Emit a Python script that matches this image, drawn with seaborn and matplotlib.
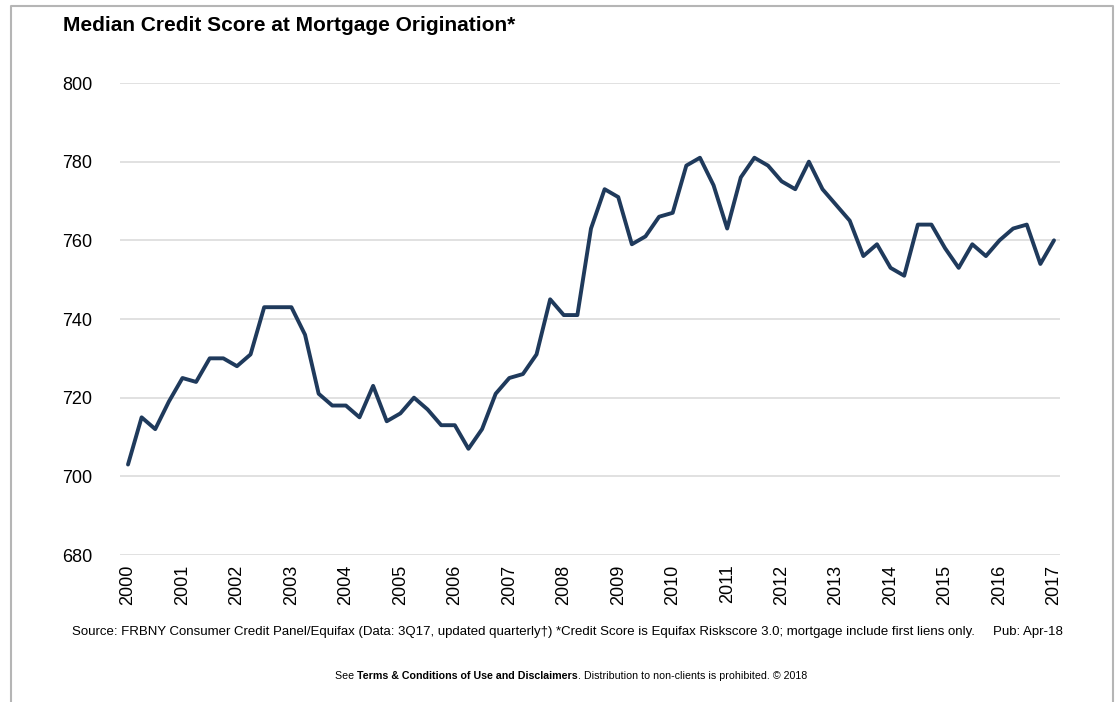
import numpy as np
import pandas as pd
import matplotlib
matplotlib.use("Agg")
import matplotlib.pyplot as plt
import seaborn as sns

# quarterly median credit score, 2000Q1 .. 2017Q1
quarters = pd.period_range("2000Q1", "2017Q1", freq="Q")
score = [703, 715, 712, 719,
         725, 724, 730, 730,
         728, 731, 743, 743,
         743, 736, 721, 718,
         718, 715, 723, 714,
         716, 720, 717, 713,
         713, 707, 712, 721,
         725, 726, 731, 745,
         741, 741, 763, 773,
         771, 759, 761, 766,
         767, 779, 781, 774,
         763, 776, 781, 779,
         775, 773, 780, 773,
         769, 765, 756, 759,
         753, 751, 764, 764,
         758, 753, 759, 756,
         760, 763, 764, 754,
         760]
years = list(range(2000, 2018))
yticks = [680, 700, 720, 740, 760, 780, 800]

df = pd.DataFrame({"t": quarters.year + (quarters.quarter - 1) / 4.0, "score": score})

sns.set_style("white")
plt.rcParams["font.family"] = ["Liberation Sans", "DejaVu Sans"]
plt.rcParams["text.color"] = "black"
plt.rcParams["xtick.color"] = "black"
plt.rcParams["ytick.color"] = "black"

W, H = 1117, 702
fig = plt.figure(figsize=(W / 100, H / 100), dpi=100)
ax = fig.add_axes([120 / W, 1 - 555 / H, 940 / W, 472 / H])

sns.lineplot(data=df, x="t", y="score", ax=ax, color="#1f3a5c", linewidth=2.8)

ax.set_xlim(2000 - 8 / 54.47, 2017 + 6 / 54.47)
ax.set_ylim(680, 800)
ax.set_yticks(yticks)
ax.set_xticks(years)
ax.set_xticklabels([str(y) for y in years], rotation=90, fontsize=13)
ax.tick_params(axis="y", labelsize=13, pad=20, length=0)
ax.tick_params(axis="x", pad=7, length=0)
ax.yaxis.grid(True, color="#dcdcdc", linewidth=1.2)
ax.xaxis.grid(False)
for s in ax.spines.values():
    s.set_visible(False)
ax.set_xlabel("")
ax.set_ylabel("")

fig.text(63 / W, 1 - 31 / H, "Median Credit Score at Mortgage Origination*",
         fontsize=15, fontweight="bold", ha="left", va="baseline")

narrow = ["Liberation Sans Narrow", "Liberation Sans", "DejaVu Sans"]
fig.text(72 / W, 1 - 632 / H,
         "Source: FRBNY Consumer Credit Panel/Equifax (Data: 3Q17, updated quarterly\u2020) "
         "*Credit Score is Equifax Riskscore 3.0; mortgage include first liens only.",
         fontsize=9.5, family=narrow, ha="left", va="center")
fig.text(1063 / W, 1 - 632 / H, "Pub: Apr-18", fontsize=9.5, family=narrow,
         ha="right", va="center")

y_b = 1 - 676 / H
t1 = fig.text(335 / W, y_b, "See ", fontsize=7.7, family=narrow, ha="left", va="center")
fig.canvas.draw()
r = fig.canvas.get_renderer()
x = t1.get_window_extent(r).x1
t2 = fig.text(x / W, y_b, "Terms & Conditions of Use and Disclaimers", fontsize=7.7,
              family=narrow, fontweight="bold", ha="left", va="center")
x = t2.get_window_extent(r).x1
fig.text(x / W, y_b, ". Distribution to non-clients is prohibited. \u00a9 2018", fontsize=7.7,
         family=narrow, ha="left", va="center")

# outer frame
fig.add_artist(plt.Line2D([11 / W, 11 / W, 1113 / W, 1113 / W],
                          [0, 1 - 6 / H, 1 - 6 / H, 0],
                          transform=fig.transFigure, color="#b5b5b5", linewidth=1.5))

fig.savefig("out.png", dpi=100)
